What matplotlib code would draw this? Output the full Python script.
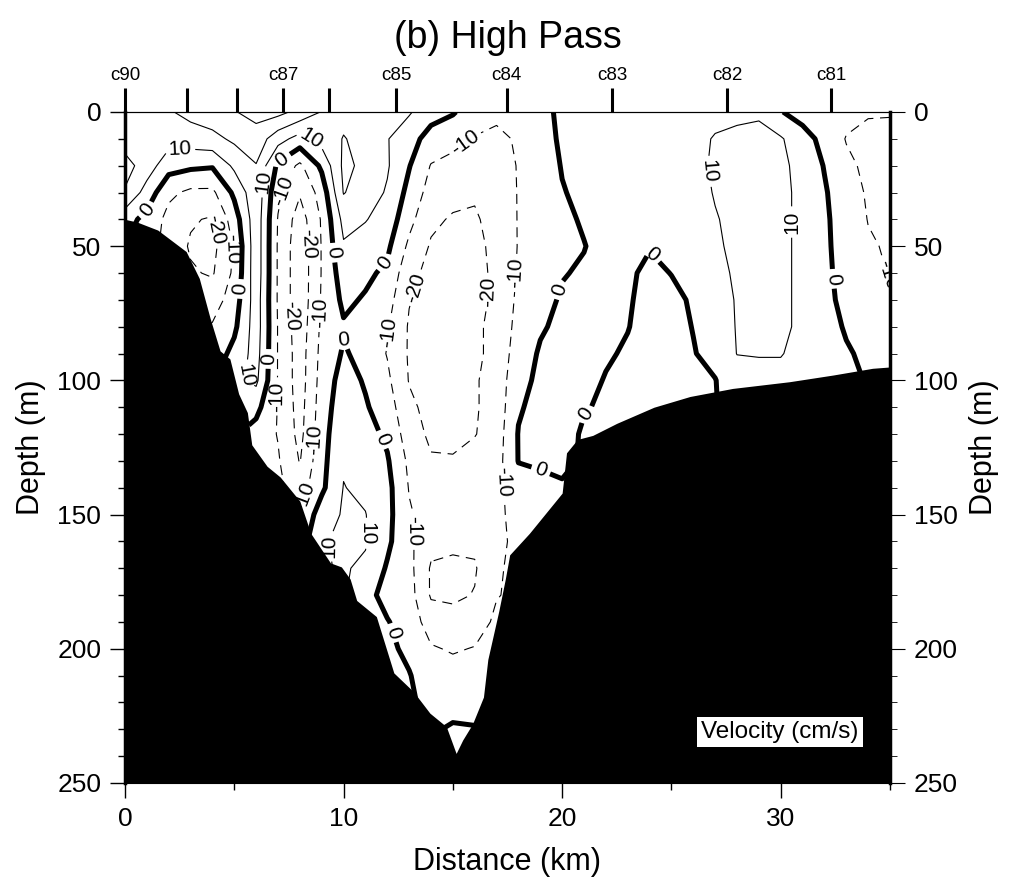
import numpy as np
import matplotlib.pyplot as plt

plt.rcParams['font.family'] = ['Liberation Sans', 'DejaVu Sans']

# grid of the section: distance (km) and depth (m)
dist_km = np.arange(0, 36, 1.0)
depth_m = np.arange(0, 260, 10.0)

# velocity profiles (cm/s), one per km, from the surface down to the bottom
P0 = [12, 15, 24, 19, 4, 0]
P1 = [15, 16, 15, 6, -3, -5]
P2 = [19, 14, 4, -8, -13, -14]
P3 = [23, 15, 2, -12, -19, -21, -19]
P4 = [26, 17, 1, -12, -21, -23, -21, -15, -9, -6]
P5 = [29.5, 22, 12, 2, -5, -9, -8, -5, -2, 3, 8, 8]
P6 = [33, 26, 19.5, 17, 16, 16, 16, 15, 15, 14, 12, 3, -4, -6]
P7 = [33, 14, -2, -8, -10.5, -11, -11, -11, -10.5, -10.5, -10.5, -10.5, -10.5, -9, -8]
P8 = [27, 6, -12, -19, -25, -27, -27, -27, -26, -25, -25, -24, -23, -20.5, -15, -9, -5]
P9 = [19.5, 14, 2, -6, -9, -9.5, -9.5, -9, -8, -7, -6, -5, -4, -3, -2, 5, 9, 9]
P10 = [17, 20.5, 22, 20.5, 13, 9, 5, 2, -1, 1, 4, 6, 8, 9, 10.3, 11, 12, 11]
P11 = [15, 17, 18, 15, 10.5, 6, 2, -1, -4, -3, -1, 1, 4, 6, 8, 10.3, 11, 8, 3, 1]
P12 = [12, 10.5, 11, 9, 6, 2, -2, -6, -9, -10.5, -8, -5, -2, 1, 3, 3, 2, -1, -3, 0.5, 2, 2]
P13 = [11, 4, 0.5, -3, -7, -12, -17, -19.5, -21, -21, -20.5, -18, -15, -12, -10.5, -9, -8, -7, -6, -4, -2, 0.5, 1]
P14 = [4, -4, -10.5, -14, -18, -21, -23, -24, -24, -24, -24, -23, -22, -19, -15, -14, -17, -21, -21, -15, -9, -5, -2, -1]
P15 = [1, -8, -12, -17, -21, -24, -25, -25, -25, -25, -25, -24, -23, -19, -15, -14, -18, -22, -22, -16, -11, -6, -3, 1, 1, 1]
P16 = [-6, -10.5, -15, -19, -21, -22, -23, -23, -22, -22, -21, -21, -20.5, -16, -14, -14, -18, -21, -19.5, -15, -9.5, -6, -3, 0.5]
P17 = [-8, -12, -14, -16, -17, -18, -18, -18, -17, -17, -16, -16, -15, -14, -13, -12, -12, -11, -10.5, -8]
P18 = [-7, -9, -9.5, -9.5, -9.5, -9.5, -9, -8, -7, -5, -3, -1, 0.5, 0.3, -4, -7, -8]
P19 = [-3, -4, -5, -6, -6, -6, -5, -3, -1, 1, 2, 3, 3, 1, -2, -3]
P20 = [2, 1.5, 0.5, -0.5, -2, -2, -0.5, 1, 2, 3, 3, 3, 3, 2, -1, -2]
P21 = [3, 3, 3, 2, 1, -0.3, 1, 2, 3, 3, 2.5, 0.5, -1, -1]
P22 = [3, 3, 3, 3, 3, 3, 3, 2.5, 2, 1, -0.5, -1, -1]
P23 = [3, 3, 3, 3, 3, 2, 1.5, 1, 0.3, -1, -2, -2, -2]
P24 = [4, 4, 4, 3.5, 2, 0.5, -2, -3, -3, -3, -3, -3]
P25 = [5, 5, 5, 5, 4, 2, 0.2, -2, -3, -3, -3, -3]
P26 = [7, 8, 8, 7, 6, 5, 3, 1, 0.3, -0.5, -1.5, -2]
P27 = [8, 10.5, 11, 10.5, 9.5, 9, 8, 7, 5, 3, -0.3, -0.5]
P28 = [9, 11, 12, 12, 12, 11.5, 11, 10.5, 10.5, 10.2, 6, 4]
P29 = [9, 12, 13, 13, 13, 13, 13, 13, 12, 10.5, 7, 5]
P30 = [0.5, 11, 12, 12, 12, 12, 12, 12, 12, 10.5, 7, 5]
P31 = [-4, 4, 7, 8, 8, 8, 8, 8, 8, 7, 5, 4]
P32 = [-6, -3, -0.5, 1, 1.5, 1.5, 1.5, 1.5, 2, 2, 2, 2]
P33 = [-7, -10.5, -8, -6, -4.5, -3.5, -2.5, -1.5, -0.5, 0.5, 1, 1]
P34 = [-9, -13, -12, -11, -10.3, -9, -7, -5, -3, -1, -0.3, -0.3]
P35 = [-9, -14, -14, -13, -12, -11, -10.5, -9, -7, -4, -2, -2]

profiles = [P0, P1, P2, P3, P4, P5, P6, P7, P8, P9, P10, P11, P12, P13, P14, P15, P16, P17,
            P18, P19, P20, P21, P22, P23, P24, P25, P26, P27, P28, P29, P30, P31, P32, P33, P34, P35]

# stations along the top
stn_km = [0, 2.84, 5.12, 7.23, 9.33, 12.40, 17.47, 22.28, 27.54, 32.30]
stn_names = ['c90', '', '', 'c87', '', 'c85', 'c84', 'c83', 'c82', 'c81']

# bottom profile
bathy_km = [0, 0.55, 1.5, 2.8, 3.4, 3.9, 4.35, 4.8, 5.2, 5.6, 5.8, 6.5, 7.1, 8.0, 8.5, 9.4, 9.9,
            10.3, 10.6, 11.5, 12.3, 13.2, 13.95, 14.7, 15.15, 15.45, 15.9, 16.4, 16.6, 17.1, 17.4,
            17.6, 18.5, 20.0, 20.2, 20.7, 21.4, 22.5, 24.2, 25.85, 27.8, 30.4, 32.4, 34.2, 35]
bathy_m = [40, 41, 44, 52, 62, 77, 89, 92, 105, 112, 124, 132, 136, 145, 157, 168, 169.5,
           174, 182, 188, 209, 216, 224, 229, 239, 234, 228, 218, 204, 186, 174,
           165, 157, 142, 127, 122, 120.5, 116, 110, 106, 103, 100.5, 98, 95.5, 95]

levels = [-30, -20, -10, 0, 10, 20, 30]

# where the contour labels sit (km, m)
label_at = [(2.5, 15), (1.05, 37), (4.0, 44), (4.6, 51), (5.4, 66), (6.3, 26), (7.2, 18),
            (7.4, 30), (8.6, 9), (8.3, 49), (10.0, 52), (9.3, 75), (9.9, 82), (12.0, 57),
            (15.5, 11), (13.5, 66), (16.8, 67), (17.9, 60), (19.75, 66), (12.1, 82),
            (7.7, 76), (6.5, 92), (5.5, 98), (7.2, 106), (8.5, 122), (11.8, 122),
            (8.4, 144), (9.1, 162), (11.1, 157), (12.3, 194), (13.4, 156), (17.1, 138),
            (19.1, 132), (21.0, 112), (24.3, 52), (26.8, 22), (30.6, 41), (32.6, 62),
            (34.8, 61)]

nz = len(depth_m)
vel = np.array([p + [p[-1]] * (nz - len(p)) for p in profiles], dtype=float).T
# drop the part well below the sea floor
floor = np.interp(dist_km, bathy_km, bathy_m)
vel = np.where(depth_m[:, None] > floor[None, :] + 20, np.nan, vel)

fig = plt.figure(figsize=(10.16, 8.86), dpi=100)
ax = fig.add_axes([0.123, 0.1163, 0.753, 0.7573])
ax.set_xlim(0, 35)
ax.set_ylim(250, 0)

lws = [3.6 if l == 0 else 0.8 for l in levels]
lss = [(0, (9, 6)) if l < 0 else 'solid' for l in levels]
cs = ax.contour(dist_km, depth_m, vel, levels=levels, colors='k',
                linewidths=lws, linestyles=lss, zorder=2)
ax.clabel(cs, fmt='%d', fontsize=15, inline=True, inline_spacing=4, manual=label_at)

ax.fill_between(bathy_km, bathy_m, 260, color='k', lw=0, zorder=4)

ax.set_xticks([0, 10, 20, 30])
ax.set_xticks([5, 15, 25, 35], minor=True)
ax.set_yticks(range(0, 251, 50))
ax.set_yticks(range(0, 251, 10), minor=True)
ax.tick_params(which='both', direction='out', labelsize=19, top=False, right=False)
ax.tick_params(which='major', length=11, width=1, pad=6)
ax.tick_params(which='minor', length=5, width=1)
ax.set_xlabel('Distance (km)', fontsize=22, labelpad=12)
ax.set_ylabel('Depth (m)', fontsize=22, labelpad=8)
ax.spines['left'].set_linewidth(2.5)
ax.spines['right'].set_visible(False)

right = ax.secondary_yaxis('right')
right.set_yticks(range(0, 251, 50))
right.set_yticks(range(0, 251, 10), minor=True)
right.tick_params(which='both', direction='out', labelsize=19)
right.tick_params(which='major', length=11, pad=6)
right.tick_params(which='minor', length=5)
right.spines['right'].set_linewidth(2.5)
right.set_ylabel('Depth (m)', fontsize=22, labelpad=8)

top = ax.secondary_xaxis('top')
top.set_xticks(stn_km, stn_names)
top.tick_params(direction='out', length=17, width=2.2, labelsize=13.5, pad=3)

ax.text(0.856, 0.076, 'Velocity (cm/s)', transform=ax.transAxes, fontsize=17.5,
        ha='center', va='center', zorder=6,
        bbox=dict(facecolor='white', edgecolor='none', pad=3))

fig.text(0.5, 1 - 38 / 886, '(b) High Pass', ha='center', va='center', fontsize=27)

fig.savefig('out.png', dpi=100)
